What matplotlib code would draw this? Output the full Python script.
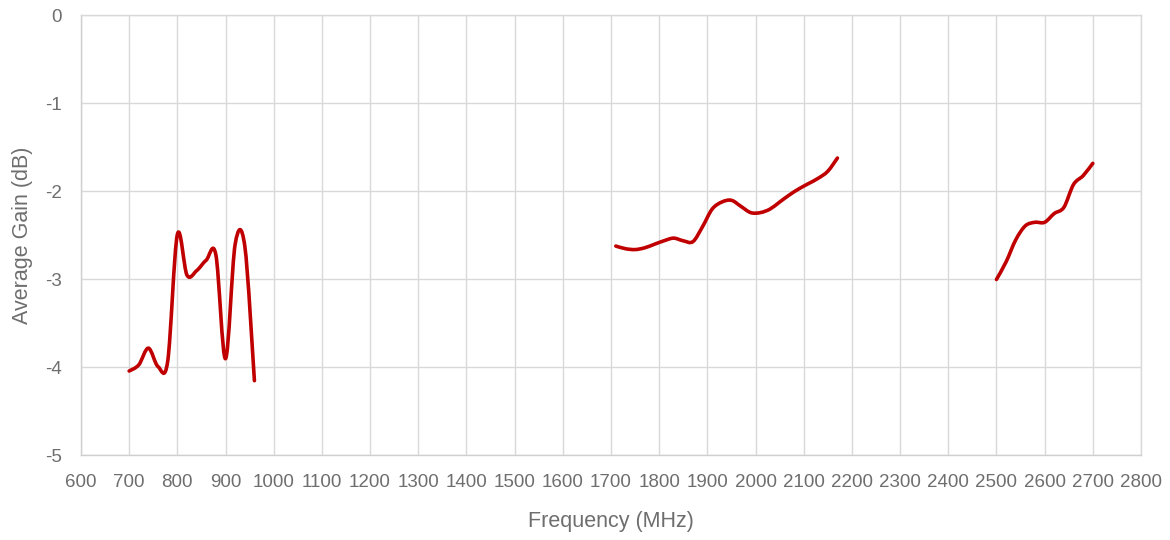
import numpy as np
import matplotlib.pyplot as plt
from matplotlib.path import Path
from matplotlib.patches import PathPatch

# bande basse
freq_low = [700, 720, 740, 760, 780, 800, 820, 840, 860, 880, 900, 920, 940, 960]
gain_low = [-4.04, -3.97, -3.78, -3.99, -3.93, -2.49, -2.95, -2.90, -2.78, -2.72, -3.90, -2.60, -2.62, -4.15]

# bande moyenne
freq_mid = [1710, 1730, 1750, 1770, 1790, 1810, 1830, 1850, 1870, 1890, 1910, 1930,
            1950, 1970, 1990, 2010, 2030, 2050, 2070, 2090, 2110, 2130, 2150, 2170]
gain_mid = [-2.62, -2.65, -2.66, -2.64, -2.60, -2.56, -2.53, -2.56, -2.57, -2.40, -2.20, -2.12,
            -2.10, -2.17, -2.24, -2.24, -2.20, -2.12, -2.04, -1.97, -1.91, -1.85, -1.77, -1.62]

# bande haute
freq_high = [2500, 2520, 2540, 2560, 2580, 2600, 2620, 2640, 2660, 2680, 2700]
gain_high = [-3.00, -2.80, -2.55, -2.39, -2.35, -2.35, -2.25, -2.18, -1.92, -1.82, -1.68]

xticks = list(range(600, 2801, 100))
yticks = [0, -1, -2, -3, -4, -5]

red = "#C00000"
grey_txt = "#6E6E6E"
grey_grid = "#D9D9D9"


def smooth_path(x, y):
    # courbe lissée type Excel (Catmull-Rom -> Bezier)
    p = np.column_stack([x, y]).astype(float)
    p = np.vstack([p[0], p, p[-1]])
    verts = [p[1]]
    codes = [Path.MOVETO]
    for i in range(1, len(p) - 2):
        c1 = p[i] + (p[i + 1] - p[i - 1]) / 6
        c2 = p[i + 1] - (p[i + 2] - p[i]) / 6
        verts += [c1, c2, p[i + 1]]
        codes += [Path.CURVE4] * 3
    return Path(verts, codes)


plt.rcParams['font.family'] = ['Liberation Sans', 'DejaVu Sans']

fig = plt.figure(figsize=(11.7, 5.4), dpi=100)
ax = fig.add_axes([0.0692, 0.1565, 0.906, 0.8148])

for fx, gy in [(freq_low, gain_low), (freq_mid, gain_mid), (freq_high, gain_high)]:
    patch = PathPatch(smooth_path(fx, gy), facecolor="none", edgecolor=red,
                      linewidth=2.6, capstyle="round", joinstyle="round", zorder=3)
    ax.add_patch(patch)

ax.set_xlim(600, 2800)
ax.set_ylim(-5, 0)
ax.set_xticks(xticks)
ax.set_yticks(yticks)
ax.set_xticklabels([str(t) for t in xticks])
ax.set_yticklabels([str(t) for t in yticks])

ax.grid(True, color=grey_grid, linewidth=1)
ax.set_axisbelow(True)
for s in ax.spines.values():
    s.set_color(grey_grid)
    s.set_linewidth(1)
ax.spines["left"].set_color("#CFCFCF")
ax.spines["bottom"].set_color("#CFCFCF")

ax.tick_params(axis="both", length=0, labelsize=13.5, labelcolor=grey_txt)
ax.tick_params(axis="x", pad=13)
ax.tick_params(axis="y", pad=14)

ax.set_xlabel("Frequency (MHz)", fontsize=15.5, color=grey_txt, va="center")
ax.set_ylabel("Average Gain (dB)", fontsize=15.5, color=grey_txt, va="center", ha="center")
ax.xaxis.set_label_coords(0.5, -0.151)
ax.yaxis.set_label_coords(-0.0547, 0.5)

plt.savefig("out.png", dpi=100)
plt.close()
